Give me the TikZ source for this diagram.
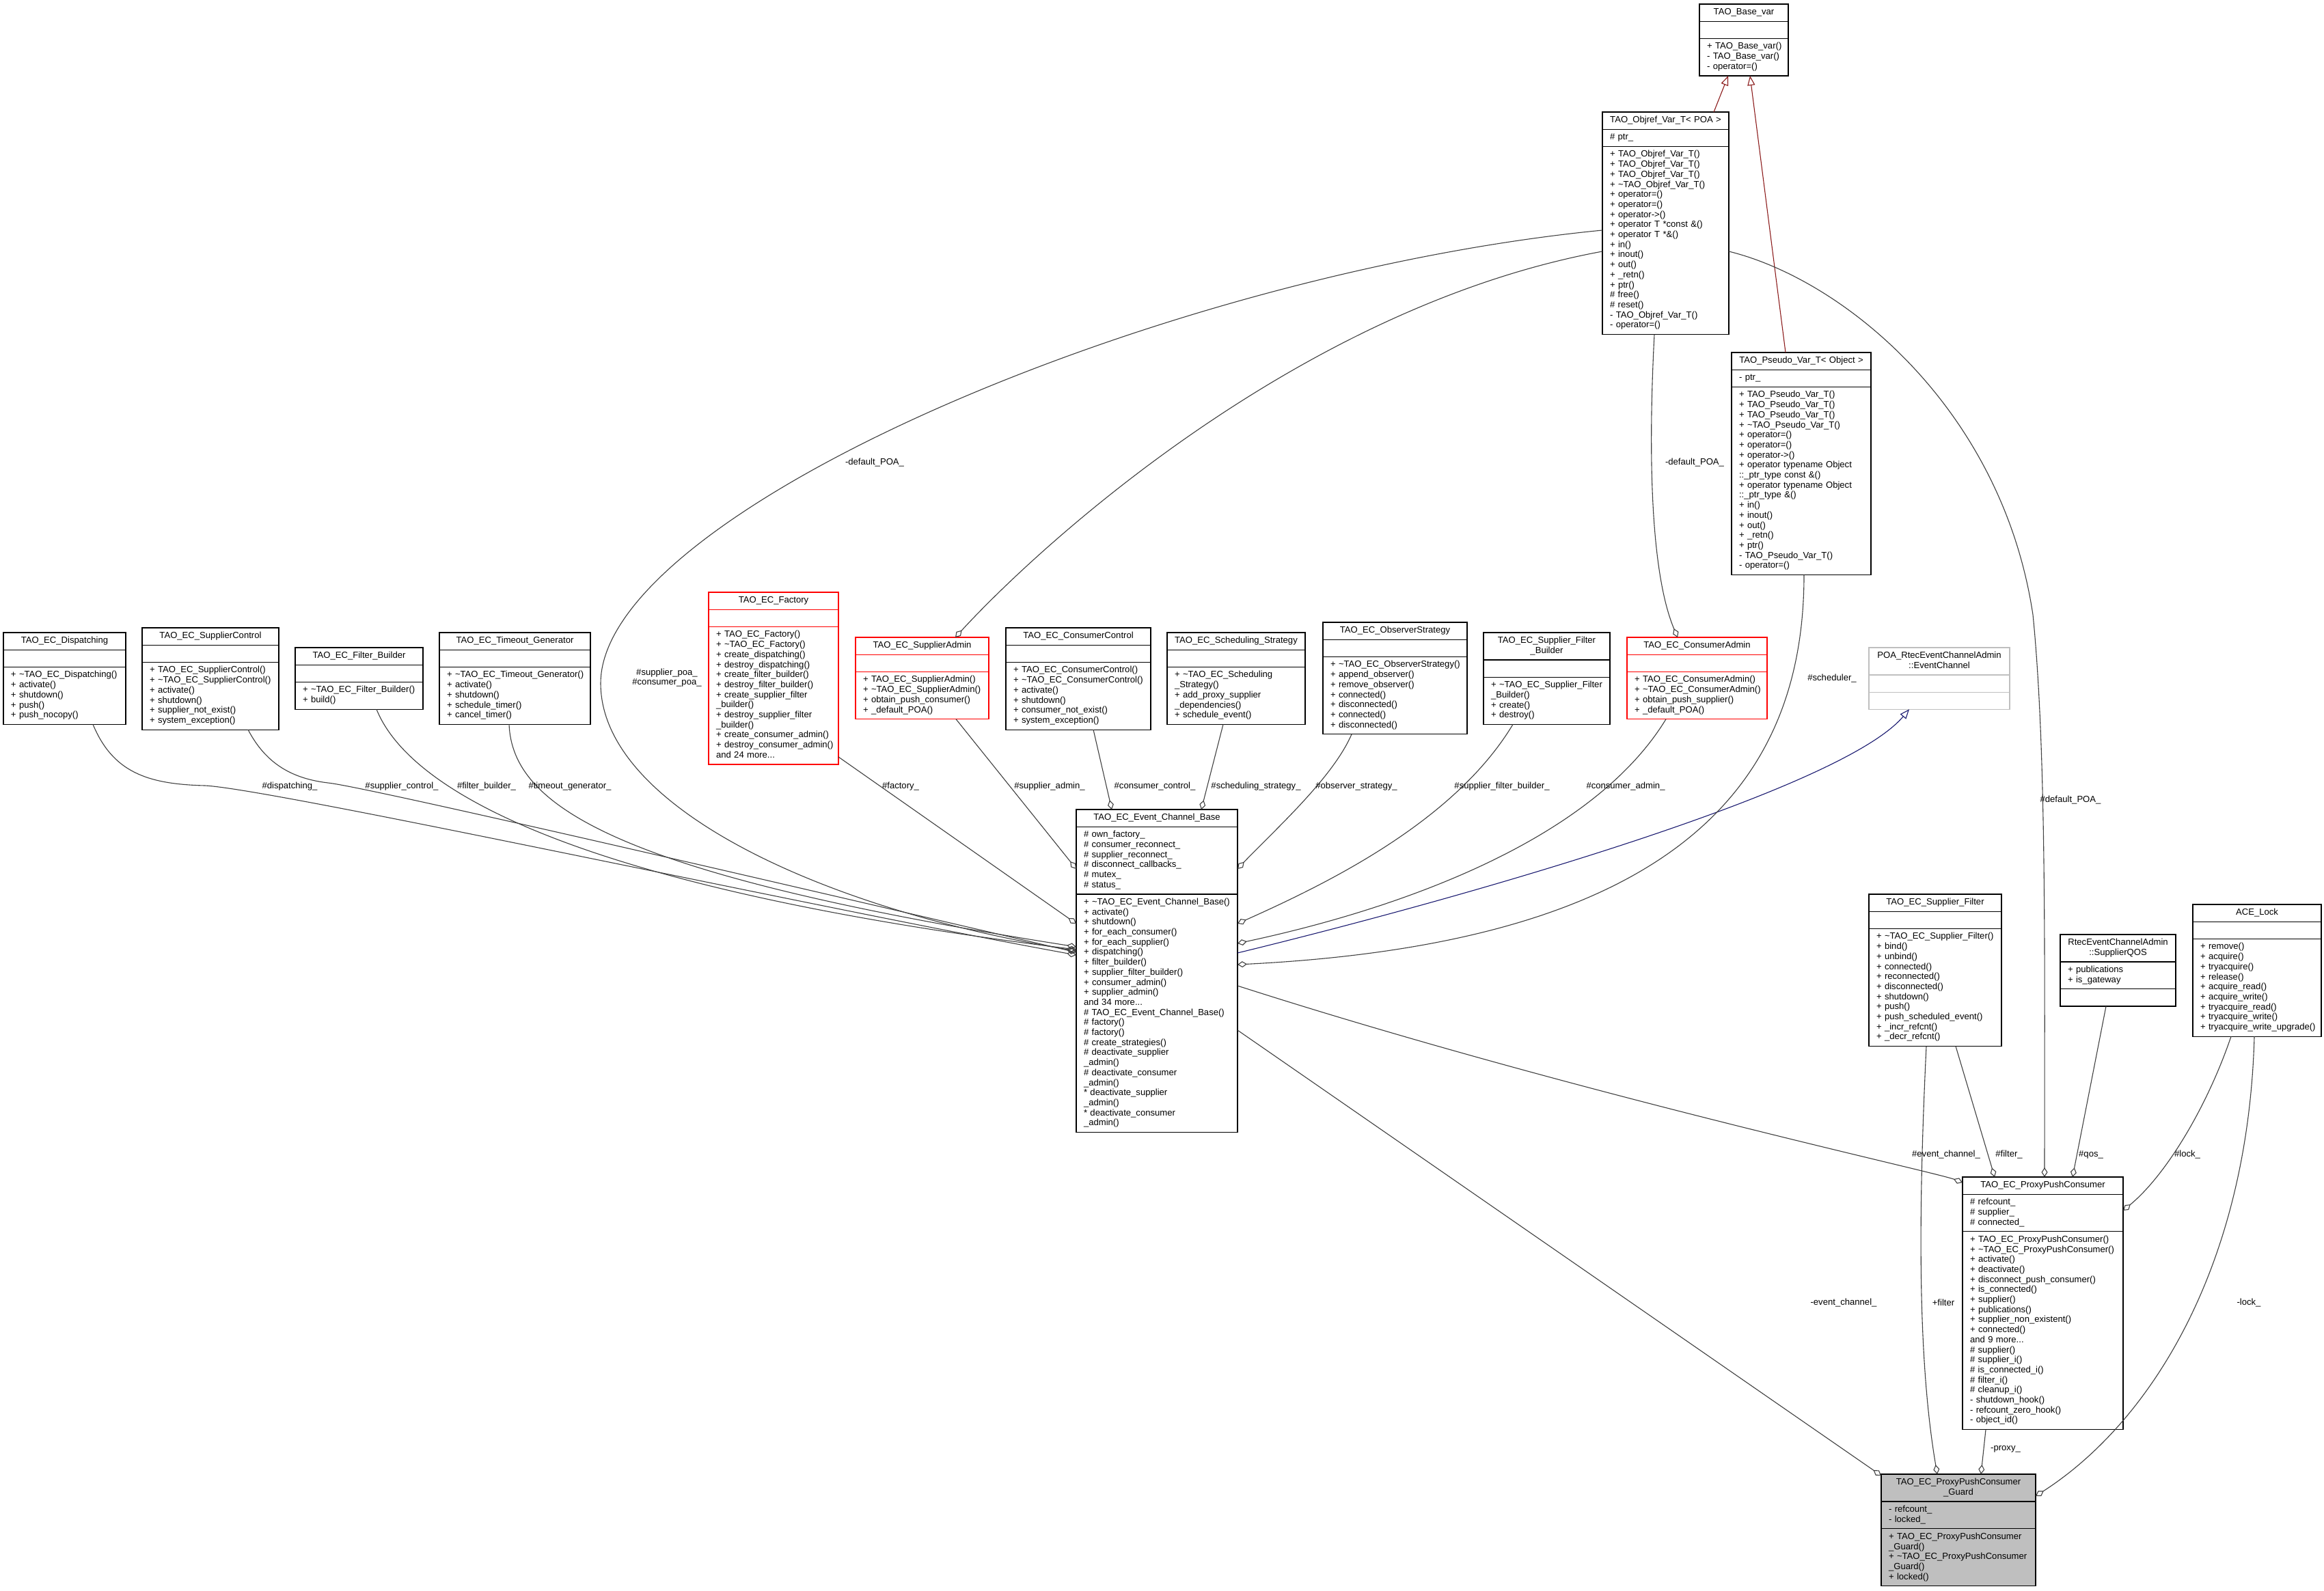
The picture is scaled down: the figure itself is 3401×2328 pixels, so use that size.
\documentclass[tikz,border=0pt]{standalone}
\usepackage{fontspec}
\setmainfont{Liberation Sans}
\usetikzlibrary{arrows.meta,calc,fit}
\hyphenpenalty=10000 \exhyphenpenalty=10000
\newcommand\classfont{\fontsize{13.1}{14.7}\selectfont}
\definecolor{edgegray}{HTML}{404040}
\definecolor{inhredc}{RGB}{139,26,26}
\definecolor{inhbluec}{RGB}{25,25,112}
\definecolor{extgray}{HTML}{BFBFBF}
\definecolor{guardfill}{HTML}{BFBFBF}
\tikzset{
  clsrow/.style={draw=black, line width=1.2pt, fill=white, inner xsep=11pt, inner ysep=5.25pt, outer sep=0pt,
    font=\classfont, execute at begin node=\strut, execute at end node=\strut},
  blackbox/.style={},
  redbox/.style={draw=red},
  extbox/.style={draw=extgray},
  guardbox/.style={fill=guardfill},
  agg/.style={draw=edgegray, line width=1.1pt, -{Diamond[open,length=14pt,width=9pt]}},
  inhedge/.style={draw=inhredc, line width=1.1pt, -{Triangle[open,length=14pt,width=11pt]}},
  pubinh/.style={draw=inhbluec, line width=1.1pt, -{Triangle[open,length=14pt,width=11pt]}},
  elabel/.style={font=\classfont, inner sep=0pt, align=center}
}
\newcommand\umlclass[8]{%
  \pgfmathsetmacro\umltw{#4-22}%
  \node[clsrow,#5,align=center,text width=\umltw pt,anchor=north west] (#1-t) at (#2,#3) {#6};
  \node[clsrow,#5,align=left,text width=\umltw pt,anchor=north west] (#1-a) at (#1-t.south west) {#7};
  \node[clsrow,#5,align=left,text width=\umltw pt,anchor=north west] (#1-m) at (#1-a.south west) {#8};
  \node[fit=(#1-t)(#1-m),inner sep=0pt,outer sep=0pt] (#1) {};
}
\begin{document}
\begin{tikzpicture}[x=1pt,y=-1pt]
\useasboundingbox (0,0) rectangle (3401,2328);
\fill[white] (0,0) rectangle (3401,2328);

% ---------------- classes ----------------
\umlclass{base}{2487}{6}{130}{blackbox}{TAO\_Base\_var}{}{+~TAO\_Base\_var()\\-~TAO\_Base\_var()\\-~operator=()}
\umlclass{objref}{2345}{164}{185}{blackbox}{TAO\_Objref\_Var\_T<~POA~>}{\#~ptr\_}{+~TAO\_Objref\_Var\_T()\\+~TAO\_Objref\_Var\_T()\\+~TAO\_Objref\_Var\_T()\\+~\textasciitilde TAO\_Objref\_Var\_T()\\+~operator=()\\+~operator=()\\+~operator->()\\+~operator~T~*const~\&()\\+~operator~T~*\&()\\+~in()\\+~inout()\\+~out()\\+~\_retn()\\+~ptr()\\\#~free()\\\#~reset()\\-~TAO\_Objref\_Var\_T()\\-~operator=()}
\umlclass{pseudo}{2534}{516}{204}{blackbox}{TAO\_Pseudo\_Var\_T<~Object~>}{-~ptr\_}{+~TAO\_Pseudo\_Var\_T()\\+~TAO\_Pseudo\_Var\_T()\\+~TAO\_Pseudo\_Var\_T()\\+~\textasciitilde TAO\_Pseudo\_Var\_T()\\+~operator=()\\+~operator=()\\+~operator->()\\+~operator~typename~Object\\::\_ptr\_type~const~\&()\\+~operator~typename~Object\\::\_ptr\_type~\&()\\+~in()\\+~inout()\\+~out()\\+~\_retn()\\+~ptr()\\-~TAO\_Pseudo\_Var\_T()\\-~operator=()}

\umlclass{disp}{5}{926}{179}{blackbox}{TAO\_EC\_Dispatching}{}{+~\textasciitilde TAO\_EC\_Dispatching()\\+~activate()\\+~shutdown()\\+~push()\\+~push\_nocopy()}
\umlclass{supctl}{208}{919}{200}{blackbox}{TAO\_EC\_SupplierControl}{}{+~TAO\_EC\_SupplierControl()\\+~\textasciitilde TAO\_EC\_SupplierControl()\\+~activate()\\+~shutdown()\\+~supplier\_not\_exist()\\+~system\_exception()}
\umlclass{fbuild}{432}{948}{187}{blackbox}{TAO\_EC\_Filter\_Builder}{}{+~\textasciitilde TAO\_EC\_Filter\_Builder()\\+~build()}
\umlclass{tgen}{643}{926}{221}{blackbox}{TAO\_EC\_Timeout\_Generator}{}{+~\textasciitilde TAO\_EC\_Timeout\_Generator()\\+~activate()\\+~shutdown()\\+~schedule\_timer()\\+~cancel\_timer()}
\umlclass{factory}{1037}{867}{190}{redbox}{TAO\_EC\_Factory}{}{+~TAO\_EC\_Factory()\\+~\textasciitilde TAO\_EC\_Factory()\\+~create\_dispatching()\\+~destroy\_dispatching()\\+~create\_filter\_builder()\\+~destroy\_filter\_builder()\\+~create\_supplier\_filter\\\_builder()\\+~destroy\_supplier\_filter\\\_builder()\\+~create\_consumer\_admin()\\+~destroy\_consumer\_admin()\\and~24~more...}
\umlclass{supadm}{1252}{933}{195}{redbox}{TAO\_EC\_SupplierAdmin}{}{+~TAO\_EC\_SupplierAdmin()\\+~\textasciitilde TAO\_EC\_SupplierAdmin()\\+~obtain\_push\_consumer()\\+~\_default\_POA()}
\umlclass{conctl}{1472}{919}{212}{blackbox}{TAO\_EC\_ConsumerControl}{}{+~TAO\_EC\_ConsumerControl()\\+~\textasciitilde TAO\_EC\_ConsumerControl()\\+~activate()\\+~shutdown()\\+~consumer\_not\_exist()\\+~system\_exception()}
\umlclass{sched}{1708}{926}{202}{blackbox}{TAO\_EC\_Scheduling\_Strategy}{}{+~\textasciitilde TAO\_EC\_Scheduling\\\_Strategy()\\+~add\_proxy\_supplier\\\_dependencies()\\+~schedule\_event()}
\umlclass{obs}{1936}{911}{211}{blackbox}{TAO\_EC\_ObserverStrategy}{}{+~\textasciitilde TAO\_EC\_ObserverStrategy()\\+~append\_observer()\\+~remove\_observer()\\+~connected()\\+~disconnected()\\+~connected()\\+~disconnected()}
\umlclass{sfb}{2171}{926}{185}{blackbox}{TAO\_EC\_Supplier\_Filter\\\_Builder}{}{+~\textasciitilde TAO\_EC\_Supplier\_Filter\\\_Builder()\\+~create()\\+~destroy()}
\umlclass{conadm}{2381}{933}{205}{redbox}{TAO\_EC\_ConsumerAdmin}{}{+~TAO\_EC\_ConsumerAdmin()\\+~\textasciitilde TAO\_EC\_ConsumerAdmin()\\+~obtain\_push\_supplier()\\+~\_default\_POA()}
\umlclass{poa}{2735}{948}{206}{extbox}{POA\_RtecEventChannelAdmin\\::EventChannel}{}{}

\umlclass{ecb}{1575}{1185}{236}{blackbox}{TAO\_EC\_Event\_Channel\_Base}{\#~own\_factory\_\\\#~consumer\_reconnect\_\\\#~supplier\_reconnect\_\\\#~disconnect\_callbacks\_\\\#~mutex\_\\\#~status\_}{+~\textasciitilde TAO\_EC\_Event\_Channel\_Base()\\+~activate()\\+~shutdown()\\+~for\_each\_consumer()\\+~for\_each\_supplier()\\+~dispatching()\\+~filter\_builder()\\+~supplier\_filter\_builder()\\+~consumer\_admin()\\+~supplier\_admin()\\and~34~more...\\\#~TAO\_EC\_Event\_Channel\_Base()\\\#~factory()\\\#~factory()\\\#~create\_strategies()\\\#~deactivate\_supplier\\\_admin()\\\#~deactivate\_consumer\\\_admin()\\{}*~deactivate\_supplier\\\_admin()\\{}*~deactivate\_consumer\\\_admin()}

\umlclass{sfilt}{2735}{1309}{194}{blackbox}{TAO\_EC\_Supplier\_Filter}{}{+~\textasciitilde TAO\_EC\_Supplier\_Filter()\\+~bind()\\+~unbind()\\+~connected()\\+~reconnected()\\+~disconnected()\\+~shutdown()\\+~push()\\+~push\_scheduled\_event()\\+~\_incr\_refcnt()\\+~\_decr\_refcnt()}
\umlclass{qos}{3015}{1368}{169}{blackbox}{RtecEventChannelAdmin\\::SupplierQOS}{+~publications\\+~is\_gateway}{}
\umlclass{lock}{3209}{1324}{188}{blackbox}{ACE\_Lock}{}{+~remove()\\+~acquire()\\+~tryacquire()\\+~release()\\+~acquire\_read()\\+~acquire\_write()\\+~tryacquire\_read()\\+~tryacquire\_write()\\+~tryacquire\_write\_upgrade()}
\umlclass{ppc}{2872}{1723}{235}{blackbox}{TAO\_EC\_ProxyPushConsumer}{\#~refcount\_\\\#~supplier\_\\\#~connected\_}{+~TAO\_EC\_ProxyPushConsumer()\\+~\textasciitilde TAO\_EC\_ProxyPushConsumer()\\+~activate()\\+~deactivate()\\+~disconnect\_push\_consumer()\\+~is\_connected()\\+~supplier()\\+~publications()\\+~supplier\_non\_existent()\\+~connected()\\and~9~more...\\\#~supplier()\\\#~supplier\_i()\\\#~is\_connected\_i()\\\#~filter\_i()\\\#~cleanup\_i()\\-~shutdown\_hook()\\-~refcount\_zero\_hook()\\-~object\_id()}
\umlclass{guard}{2753}{2158}{226}{guardbox}{TAO\_EC\_ProxyPushConsumer\\\_Guard}{-~refcount\_\\-~locked\_}{+~TAO\_EC\_ProxyPushConsumer\\\_Guard()\\+~\textasciitilde TAO\_EC\_ProxyPushConsumer\\\_Guard()\\+~locked()}

% ---------------- inheritance ----------------
\draw[inhedge] ($(objref.north west)+(163,0)$) -- ($(base.south west)+(42,0)$);
\draw[inhedge] ($(pseudo.north west)+(79,0)$) -- ($(base.south west)+(74,0)$);
\draw[pubinh] ($(ecb.north east)+(0,210)$) .. controls (2200,1300) and (2700,1150) .. ($(poa.south west)+(59,0)$);

% ---------------- aggregation: into Event_Channel_Base ----------------
\draw[agg] ($(disp.south west)+(131,0)$) .. controls (165,1130) and (215,1148) .. (300,1150)
  .. controls (400,1155) and (1200,1330) .. ($(ecb.north west)+(0,213)$);
\draw[agg] ($(supctl.south west)+(155,0)$) .. controls (390,1120) and (430,1140) .. (480,1146)
  .. controls (540,1152) and (1300,1330) .. ($(ecb.north west)+(0,209)$);
\draw[agg] ($(fbuild.south west)+(119,0)$) .. controls (600,1160) and (850,1300) .. ($(ecb.north west)+(0,205)$);
\draw[agg] ($(tgen.south west)+(102,0)$) .. controls (750,1180) and (900,1280) .. ($(ecb.north west)+(0,201)$);
\draw[agg] ($(objref.north west)+(0,173)$) .. controls (1700,400) and (880,750) .. (879,1000)
  .. controls (879,1180) and (1200,1330) .. ($(ecb.north west)+(0,207)$);
\draw[agg] ($(factory.north east)+(0,241)$) -- ($(ecb.north west)+(0,167)$);
\draw[agg] ($(supadm.south west)+(147,0)$) -- ($(ecb.north west)+(0,87)$);
\draw[agg] ($(conctl.south west)+(128,0)$) -- ($(ecb.north west)+(52,0)$);
\draw[agg] ($(sched.south west)+(82,0)$) -- ($(ecb.north west)+(183,0)$);
\draw[agg] ($(obs.south west)+(42,0)$) .. controls (1950,1140) and (1860,1220) .. ($(ecb.north east)+(0,87)$);
\draw[agg] ($(sfb.south west)+(43,0)$) .. controls (2130,1200) and (1950,1290) .. ($(ecb.north east)+(0,167)$);
\draw[agg] ($(conadm.south west)+(57,0)$) .. controls (2330,1230) and (2050,1330) .. ($(ecb.north east)+(0,196)$);
\draw[agg] ($(pseudo.south west)+(106,0)$) .. controls (2640,1150) and (2450,1380) .. ($(ecb.north east)+(0,227)$);

% ---------------- other aggregations ----------------
\draw[agg] ($(objref.north west)+(0,204)$) .. controls (1900,450) and (1520,800) .. ($(supadm.north west)+(146,0)$);
\draw[agg] ($(objref.south west)+(76,0)$) .. controls (2410,700) and (2420,850) .. ($(conadm.north west)+(74,0)$);
\draw[agg] ($(objref.north east)+(0,204)$) .. controls (2700,410) and (2930,600) .. (2975,900)
  .. controls (2995,1100) and (2992,1400) .. ($(ppc.north west)+(120,0)$);
\draw[agg] ($(ecb.north east)+(0,258)$) .. controls (2300,1600) and (2830,1715) .. ($(ppc.north west)+(0,8)$);
\draw[agg] ($(ecb.north east)+(0,323)$) -- ($(guard.north west)+(0,2)$);
\draw[agg] ($(sfilt.south west)+(127,0)$) -- ($(ppc.north west)+(47,0)$);
\draw[agg] ($(sfilt.south west)+(84,0)$) .. controls (2806,1800) and (2808,2000) .. ($(guard.north west)+(82,0)$);
\draw[agg] ($(qos.south west)+(67,0)$) -- ($(ppc.north west)+(161,0)$);
\draw[agg] ($(lock.south west)+(56,0)$) .. controls (3230,1620) and (3170,1720) .. ($(ppc.north east)+(0,49)$);
\draw[agg] ($(lock.south west)+(90,0)$) .. controls (3290,1850) and (3150,2080) .. ($(guard.north east)+(0,32)$);
\draw[agg] ($(ppc.south west)+(34,0)$) -- ($(guard.north west)+(146,0)$);

% ---------------- labels ----------------
\node[elabel] (l-disp) at (424,1151) {\#dispatching\_};
\node[elabel] (l-supctl) at (588,1151) {\#supplier\_control\_};
\node[elabel] (l-fbuild) at (712,1151) {\#filter\_builder\_};
\node[elabel] (l-tgen) at (834,1151) {\#timeout\_generator\_};
\node[elabel] (l-poa) at (976,992) {\#supplier\_poa\_\\\#consumer\_poa\_};
\node[elabel] (l-factory) at (1318,1151) {\#factory\_};
\node[elabel] (l-supadm) at (1536,1151) {\#supplier\_admin\_};
\node[elabel] (l-conctl) at (1690,1151) {\#consumer\_control\_};
\node[elabel] (l-sched) at (1838,1151) {\#scheduling\_strategy\_};
\node[elabel] (l-obs) at (1985,1151) {\#observer\_strategy\_};
\node[elabel] (l-sfb) at (2198,1151) {\#supplier\_filter\_builder\_};
\node[elabel] (l-conadm) at (2379,1151) {\#consumer\_admin\_};
\node[elabel] (l-scheduler) at (2681,993) {\#scheduler\_};
\node[elabel] (l-dpoa1) at (1280,677) {-default\_POA\_};
\node[elabel] (l-dpoa2) at (2480,677) {-default\_POA\_};
\node[elabel] (l-dpoa3) at (3030,1171) {\#default\_POA\_};
\node[elabel] (l-ec1) at (2848,1690) {\#event\_channel\_};
\node[elabel] (l-filter1) at (2940,1690) {\#filter\_};
\node[elabel] (l-qos) at (3060,1690) {\#qos\_};
\node[elabel] (l-lock1) at (3201,1690) {\#lock\_};
\node[elabel] (l-ec2) at (2698,1907) {-event\_channel\_};
\node[elabel] (l-filter2) at (2844,1907) {+filter};
\node[elabel] (l-lock2) at (3291,1907) {-lock\_};
\node[elabel] (l-proxy) at (2935,2121) {-proxy\_};
\end{tikzpicture}
\end{document}
